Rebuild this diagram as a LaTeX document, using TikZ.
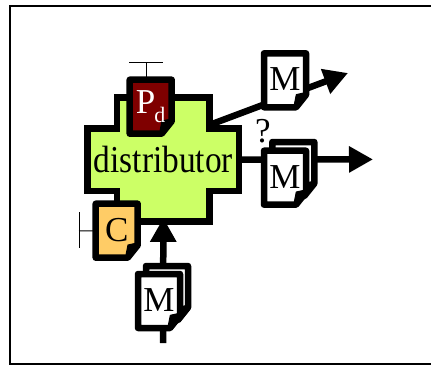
\documentclass[tikz,border=0pt]{standalone}
\usepackage{fontspec}
\setmainfont{Liberation Serif}
\usetikzlibrary{arrows.meta,backgrounds}
\definecolor{limefill}{HTML}{CCFF66}
\definecolor{darkfill}{HTML}{7F0000}
\definecolor{orangefill}{HTML}{FFCC66}
\tikzset{
  frameline/.style={draw=black,line width=2pt},
  crossline/.style={draw=black,line width=6.5pt,miter limit=10,fill=limefill},
  docline/.style={draw=black,line width=6.5pt,line join=round},
  docbox/.style={rectangle,inner sep=0pt,minimum width=42pt,minimum height=54pt,font=\fontsize{35}{35}\selectfont},
  conn/.style={draw=black,line width=6.5pt,-{Triangle[length=24pt,width=25pt]}},
  stub/.style={draw=black,line width=1pt},
}
% #1 left, #2 top, #3 fill
\newcommand{\docpath}[3]{%
  \draw[docline,fill=#3] (#1,#2) -- (#1+42,#2) -- (#1+42,#2+41.5) -- (#1+32,#2+54) -- (#1,#2+54) -- cycle;
  \fill[black,draw=black,line width=1pt,line join=round] (#1+40.3,#2+39.5) -- (#1+32.3,#2+41.3) -- (#1+30.3,#2+51.3) -- cycle;
}
\begin{document}
\begin{tikzpicture}[x=1pt,y=-1pt]
\useasboundingbox (0,0) rectangle (431,365);
\draw[frameline] (10,6) rectangle (440,363.5);
% distributor
\draw[crossline] (117,97.5) -- (209.7,97.5) -- (209.7,128.7) -- (239,128.7) -- (239,191) -- (209.7,191) -- (209.7,221.7) -- (117,221.7) -- (117,191) -- (87.7,191) -- (87.7,128.7) -- (117,128.7) -- cycle;
\node[rectangle,inner sep=0pt,minimum width=151.3pt,minimum height=124.2pt,font=\fontsize{38}{38}\selectfont] (dist) at (163.35,159.6) {\scalebox{.878}[1]{distributor}};
\coordinate (distNE) at (212,124);
% P_d
\docpath{129.7}{79.7}{darkfill}
\node[docbox,text=white] (pd) at (150.7,106.7) {\raisebox{1pt}{P\kern-1pt\raisebox{-9pt}{\fontsize{22}{22}\selectfont d}}};
% C
\docpath{95.7}{203.7}{orangefill}
\node[docbox] (c) at (116.7,230.7) {\raisebox{2pt}{C}};
% M out top
\docpath{264}{53.3}{white}
\node[docbox] (mtop) at (285,80.3) {\raisebox{2pt}{M}};
% M out middle (stack)
\docpath{272.3}{142}{white}
\docpath{264}{150.7}{white}
\node[docbox] (mmid) at (285,177.7) {\raisebox{2pt}{M}};
% M in (stack)
\docpath{146}{266}{white}
\docpath{138}{274}{white}
\node[docbox] (mbot) at (159,301) {\raisebox{2pt}{M}};
% question mark
\node[inner sep=0pt,font=\fontsize{35}{35}\selectfont] (q) at (263,131) {?};
% free ends
\coordinate (outA) at (348,73);
\coordinate (outB) at (373,159.4);
\coordinate (inS) at (163,343);
\coordinate (tP) at (146,62);
\coordinate (tC) at (79,231);
\begin{scope}[on background layer]
  \draw[conn] (distNE) -- (outA);
  \draw[conn] (dist.east) -- (outB);
  \draw[conn,shorten >=-4pt] (inS) -- (dist.south);
\end{scope}
% stubs
\draw[stub] (pd.north -| tP) -- (tP);
\draw[stub] (129,62) -- (163,62);
\draw[stub] (c.west) -- (tC);
\draw[stub] (79,212) -- (79,248);
\end{tikzpicture}
\end{document}
